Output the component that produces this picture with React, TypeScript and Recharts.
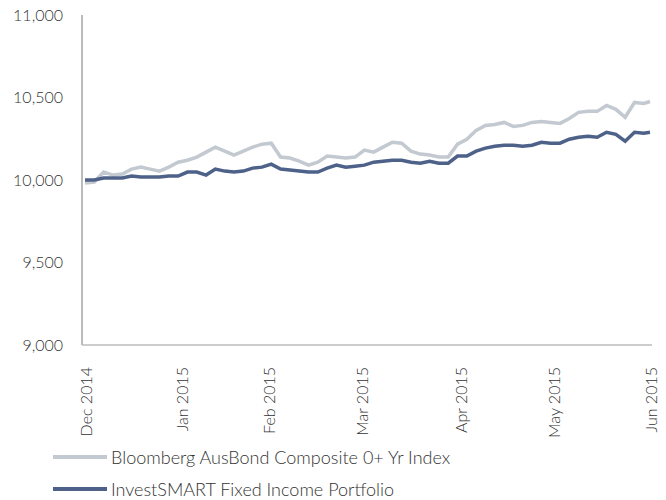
import { LineChart, Line, XAxis, YAxis } from 'recharts'

// day offsets from 1 Dec 2014
const days = [
  0, 3, 6, 9, 12, 15, 18, 21, 24, 27, 30, 33, 36, 39, 42, 45, 48, 51, 54, 57, 60, 63, 66, 69, 72, 75, 78, 81, 84, 87,
  90, 93, 96, 99, 102, 105, 108, 111, 114, 117, 120, 123, 126, 129, 132, 135, 138, 141, 144, 147, 150, 153, 156, 159,
  162, 165, 168, 171, 174, 177, 180, 182,
]

const bloomberg = [
  9982, 9988, 10048, 10030, 10036, 10066, 10078, 10066, 10054, 10078,
  10108, 10120, 10139, 10169, 10199, 10175, 10151, 10175, 10199, 10217,
  10223, 10139, 10133, 10115, 10090, 10108, 10145, 10139, 10133, 10139,
  10181, 10169, 10199, 10229, 10223, 10175, 10157, 10151, 10139, 10139,
  10217, 10247, 10301, 10331, 10337, 10349, 10325, 10331, 10349, 10355,
  10349, 10343, 10373, 10410, 10416, 10416, 10452, 10428, 10380, 10470,
  10464, 10476,
]

const investsmart = [
  10000, 10000, 10012, 10012, 10012, 10024, 10018, 10018, 10018, 10024,
  10024, 10048, 10048, 10030, 10066, 10054, 10048, 10054, 10072, 10078,
  10096, 10066, 10060, 10054, 10048, 10048, 10072, 10090, 10078, 10084,
  10090, 10108, 10114, 10120, 10120, 10108, 10102, 10114, 10102, 10102,
  10145, 10145, 10175, 10193, 10205, 10211, 10211, 10205, 10211, 10229,
  10223, 10223, 10247, 10259, 10265, 10259, 10289, 10277, 10235, 10289,
  10283, 10289,
]

const tickDays = [0, 31, 59, 89, 121, 151, 182]
const tickLabels = ['Dec 2014', 'Jan 2015', 'Feb 2015', 'Mar 2015', 'Apr 2015', 'May 2015', 'Jun 2015']
const yTicks = [9000, 9500, 10000, 10500, 11000]

const seriesNames = ['Bloomberg AusBond Composite 0+ Yr Index', 'InvestSMART Fixed Income Portfolio']
const LIGHT = '#c3c9d0'
const DARK = '#4e6188'
const FONT = 'Lato, "Open Sans", sans-serif'

const data = days.map((d, i) => ({ day: d, bloomberg: bloomberg[i], investsmart: investsmart[i] }))

const MonthTick = ({ x, y, payload }: any) => {
  const i = tickDays.indexOf(payload.value)
  return (
    <text
      transform={`translate(${x},${y + 14}) rotate(-90)`}
      textAnchor="end"
      dominantBaseline="central"
      fontSize={16}
      fontFamily={FONT}
      fontWeight={300}
      fill="#333"
    >
      {tickLabels[i]}
    </text>
  )
}

// legend drawn beside the chart, two rows centred near y=457 and y=489
const LegendBox = () => (
  <div
    style={{
      position: 'absolute',
      left: 53,
      top: 447,
      fontFamily: FONT,
      fontWeight: 300,
      fontSize: 18,
      lineHeight: '20px',
      color: '#333',
    }}
  >
    {[LIGHT, DARK].map((c, i) => (
      <div key={c} style={{ display: 'flex', alignItems: 'center', height: 20, marginBottom: i === 0 ? 12 : 0 }}>
        <div style={{ width: 54, height: 4, background: c, marginRight: 4 }} />
        <span style={{ whiteSpace: 'nowrap' }}>{seriesNames[i]}</span>
      </div>
    ))}
  </div>
)

export default function App() {
  return (
    <div style={{ position: 'absolute', left: 0, top: 0, width: 666, height: 500 }}>
      <LineChart width={666} height={500} data={data} margin={{ top: 15, right: 14, bottom: 0, left: 0 }}>
        <XAxis
          dataKey="day"
          type="number"
          domain={[0, 182]}
          ticks={tickDays}
          interval={0}
          tick={<MonthTick />}
          tickLine={false}
          height={155}
          padding={{ left: 3, right: 2 }}
          stroke="#cccccc"
          strokeWidth={2}
        />
        <YAxis
          domain={[9000, 11000]}
          ticks={yTicks}
          interval={0}
          width={82}
          tickLine={false}
          tickSize={0}
          tickMargin={19}
          tickFormatter={(v: number) => v.toLocaleString('en-US')}
          tick={{ fontSize: 16, fontFamily: FONT, fontWeight: 300, fill: '#333' }}
          stroke="#bbbbbb"
          strokeWidth={2}
        />
        <Line
          type="linear"
          dataKey="bloomberg"
          stroke={LIGHT}
          strokeWidth={3.5}
          dot={false}
          isAnimationActive={false}
        />
        <Line
          type="linear"
          dataKey="investsmart"
          stroke={DARK}
          strokeWidth={3.5}
          dot={false}
          isAnimationActive={false}
        />
      </LineChart>
      <LegendBox />
    </div>
  )
}
